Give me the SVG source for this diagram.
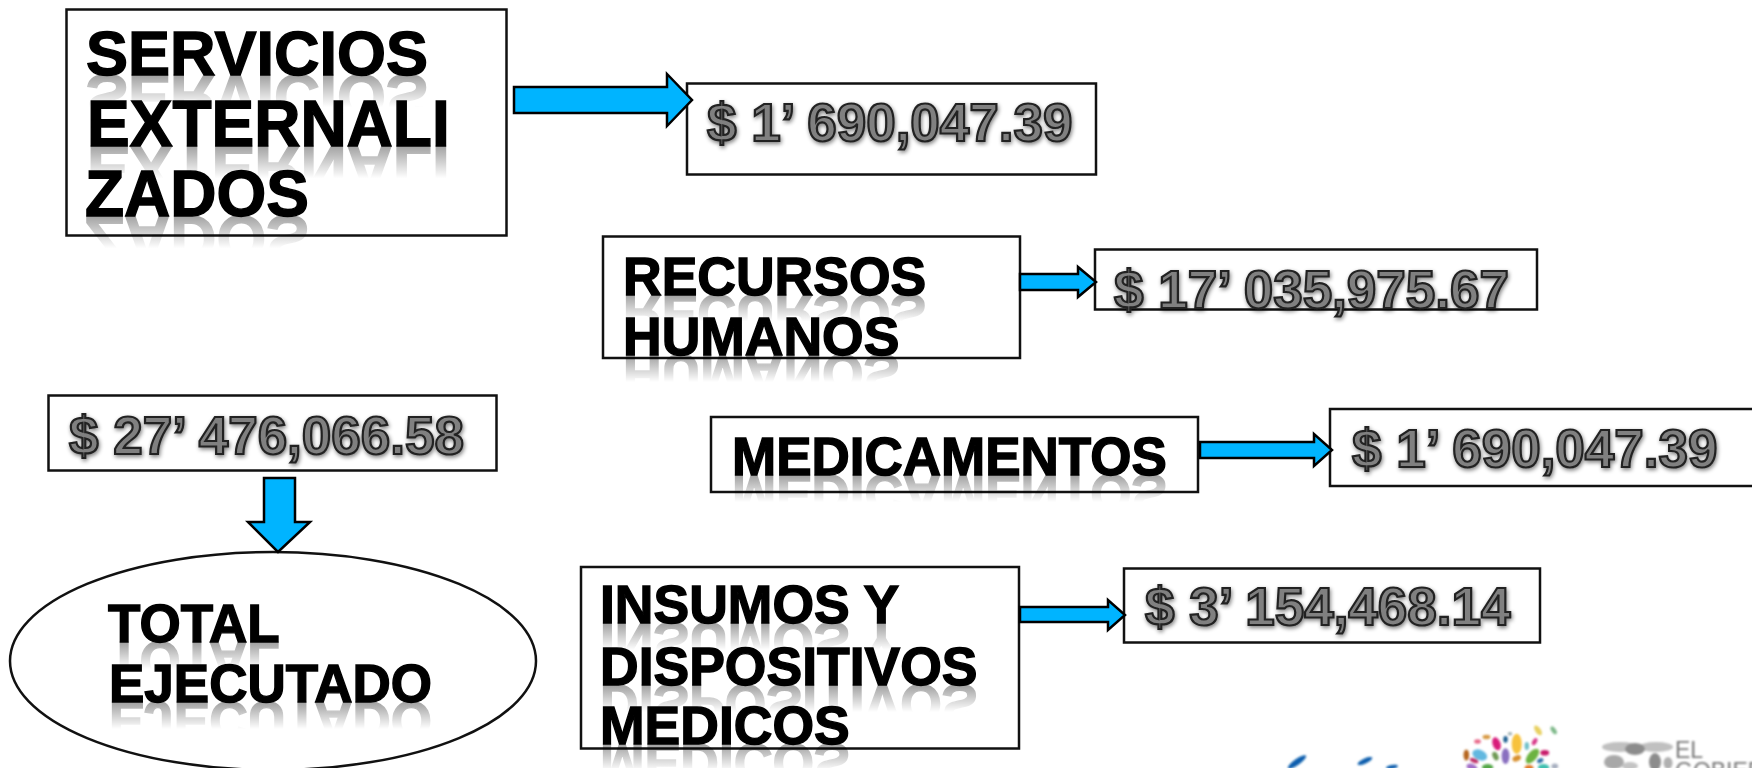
<svg xmlns="http://www.w3.org/2000/svg" width="1752" height="768" viewBox="0 0 1752 768">
<style>
text{font-family:"Liberation Sans",Arial,sans-serif;font-weight:700}
.box{fill:#fff;stroke:#111;stroke-width:2.5}
.arrow{fill:#00b4ff;stroke:#000;stroke-width:2.5;stroke-linejoin:miter}
.label{fill:#000;stroke:#000;stroke-width:1.4;filter:url(#soft)}
.value{font-size:53px;fill:#808080;stroke:#222;stroke-width:2.2;filter:url(#shadow)}
.logo{fill:#777;font-weight:400;font-size:23px;filter:url(#blur)}
</style>
<defs>
<filter id="soft" x="-5%" y="-10%" width="110%" height="120%"><feGaussianBlur stdDeviation=".6"/></filter>
<filter id="blur" x="-10%" y="-10%" width="120%" height="120%"><feGaussianBlur stdDeviation=".8"/></filter>
<filter id="shadow" x="-5%" y="-10%" width="110%" height="130%"><feGaussianBlur in="SourceAlpha" stdDeviation="2"/><feOffset dx="1" dy="2"/><feComponentTransfer><feFuncA type="linear" slope=".5"/></feComponentTransfer><feMerge><feMergeNode/><feMergeNode in="SourceGraphic"/></feMerge></filter>
<linearGradient id="fade" x1="0" y1=".81" x2="0" y2=".38"><stop offset="0" stop-color="#fff" stop-opacity=".42"/><stop offset="1" stop-color="#fff" stop-opacity="0"/></linearGradient>
<mask id="refl" maskUnits="objectBoundingBox" maskContentUnits="objectBoundingBox" x="-.05" y="-.1" width="1.1" height="1.2"><rect x="-.05" y="-.1" width="1.1" height="1.2" fill="url(#fade)"/></mask>
</defs>

<g id="node-servicios">
<rect class="box" x="66.5" y="9.5" width="440" height="226"/>
<use href="#s1" transform="matrix(1 0 0 -1 0 150)" mask="url(#refl)"/>
<use href="#s2" transform="matrix(1 0 0 -1 0 292)" mask="url(#refl)"/>
<use href="#s3" transform="matrix(1 0 0 -1 0 432)" mask="url(#refl)"/>
<text id="s1" class="label" x="86" y="75" font-size="63">SERVICIOS</text>
<text id="s2" class="label" x="87" y="146" font-size="64">EXTERNALI</text>
<text id="s3" class="label" x="85" y="216" font-size="64">ZADOS</text>
</g>
<g id="node-value-servicios">
<rect class="box" x="687" y="83.5" width="409" height="91"/>
<text class="value" x="707" y="141">$ 1’ 690,047.39</text>
</g>
<g id="node-recursos">
<rect class="box" x="603" y="236.5" width="417" height="121.5"/>
<use href="#r1" transform="matrix(1 0 0 -1 0 589)" mask="url(#refl)"/>
<use href="#r2" transform="matrix(1 0 0 -1 0 710)" mask="url(#refl)"/>
<text id="r1" class="label" x="623" y="294.5" font-size="53.5">RECURSOS</text>
<text id="r2" class="label" x="623" y="355" font-size="53.5">HUMANOS</text>
</g>
<g id="node-value-recursos">
<rect class="box" x="1095" y="249.5" width="442" height="60"/>
<text class="value" x="1114" y="308">$ 17’ 035,975.67</text>
</g>
<g id="node-value-total">
<rect class="box" x="48.5" y="395.5" width="448" height="75"/>
<text class="value" x="69" y="454">$ 27’ 476,066.58</text>
</g>
<g id="node-medicamentos">
<rect class="box" x="711" y="417" width="487" height="75"/>
<use href="#m1" transform="matrix(1 0 0 -1 0 950)" mask="url(#refl)"/>
<text id="m1" class="label" x="732" y="475" font-size="53">MEDICAMENTOS</text>
</g>
<g id="node-value-medicamentos">
<rect class="box" x="1330" y="409" width="430" height="77"/>
<text class="value" x="1352" y="467">$ 1’ 690,047.39</text>
</g>
<g id="node-total">
<ellipse class="box" cx="273" cy="661" rx="263" ry="109"/>
<use href="#t1" transform="matrix(1 0 0 -1 0 1284)" mask="url(#refl)"/>
<use href="#t2" transform="matrix(1 0 0 -1 0 1404)" mask="url(#refl)"/>
<text id="t1" class="label" x="108" y="642" font-size="53">TOTAL</text>
<text id="t2" class="label" x="109" y="702" font-size="53">EJECUTADO</text>
</g>
<g id="node-insumos">
<rect class="box" x="581" y="567" width="438" height="181.5"/>
<use href="#i1" transform="matrix(1 0 0 -1 0 1246)" mask="url(#refl)"/>
<use href="#i2" transform="matrix(1 0 0 -1 0 1370)" mask="url(#refl)"/>
<use href="#i3" transform="matrix(1 0 0 -1 0 1488)" mask="url(#refl)"/>
<text id="i1" class="label" x="600" y="623" font-size="53.5">INSUMOS Y</text>
<text id="i2" class="label" x="600" y="685" font-size="53.5">DISPOSITIVOS</text>
<text id="i3" class="label" x="600" y="744" font-size="53.5">MEDICOS</text>
</g>
<g id="node-value-insumos">
<rect class="box" x="1124" y="568.5" width="416" height="74"/>
<text class="value" x="1145" y="625">$ 3’ 154,468.14</text>
</g>

<g id="connectors">
<polygon class="arrow" points="514,87 667,87 667,74 692,100 667,126 667,113 514,113"/>
<polygon class="arrow" points="1020,274 1078,274 1078,267 1096,282 1078,297 1078,290 1020,290"/>
<polygon class="arrow" points="1200,442 1314,442 1314,434 1332,450 1314,466 1314,458 1200,458"/>
<polygon class="arrow" points="1020,607 1108,607 1108,600 1125,615 1108,630 1108,622 1020,622"/>
<polygon class="arrow" points="264,478 295,478 295,522 310,522 278,552 248,522 264,522"/>
</g>

<g id="logos" filter="url(#blur)">
<g id="logo-brush" fill="#0a5fae">
<ellipse cx="1297" cy="762" rx="11" ry="3" transform="rotate(-35 1297 762)"/>
<ellipse cx="1365" cy="761" rx="8" ry="2.5" transform="rotate(-25 1365 761)"/>
<ellipse cx="1392" cy="767" rx="6" ry="2" transform="rotate(-10 1392 767)"/>
</g>
<g id="logo-leaves" transform="translate(1510 755) scale(1.12) translate(-1510 -755)">
<ellipse cx="1498" cy="745" rx="3.5" ry="6" fill="#d81b7a" transform="rotate(-20 1498 745)"/>
<ellipse cx="1516" cy="745" rx="4.5" ry="9" fill="#f7c23c"/>
<ellipse cx="1506" cy="756" rx="3.5" ry="7" fill="#8a6fc0"/>
<ellipse cx="1530" cy="756" rx="4" ry="8" fill="#6cb33f" transform="rotate(40 1530 756)"/>
<ellipse cx="1483" cy="755" rx="7" ry="4.5" fill="#62b8e0" transform="rotate(25 1483 755)"/>
<ellipse cx="1471" cy="755" rx="2.5" ry="5" fill="#b5651d"/>
<ellipse cx="1478" cy="760" rx="4" ry="2" fill="#c0306a" transform="rotate(20 1478 760)"/>
<ellipse cx="1476" cy="766" rx="5" ry="3" fill="#a36fc8" transform="rotate(20 1476 766)"/>
<ellipse cx="1490" cy="766" rx="5" ry="3" fill="#55a84a"/>
<ellipse cx="1497" cy="756" rx="2.5" ry="4" fill="#6f9a55" transform="rotate(-25 1497 756)"/>
<ellipse cx="1516" cy="758" rx="4" ry="2.5" fill="#d8902f" transform="rotate(-25 1516 758)"/>
<ellipse cx="1527" cy="767" rx="4" ry="3" fill="#e07b2a"/>
<ellipse cx="1540" cy="766" rx="5" ry="3" fill="#3fc0b0"/>
<ellipse cx="1550" cy="765" rx="3" ry="2.5" fill="#a8b0c0"/>
<ellipse cx="1537" cy="760" rx="3" ry="2" fill="#2f6fa8" transform="rotate(-30 1537 760)"/>
<ellipse cx="1541" cy="753" rx="4" ry="2.5" fill="#c81b6a"/>
<ellipse cx="1525" cy="747" rx="2" ry="3.5" fill="#6fc0c8"/>
<ellipse cx="1489" cy="739" rx="3.5" ry="2" fill="#d89a45"/>
<ellipse cx="1481" cy="743" rx="3" ry="2" fill="#e86a8a"/>
<ellipse cx="1506" cy="741" rx="2" ry="3" fill="#1f5f90"/>
<ellipse cx="1510" cy="736" rx="2" ry="1.5" fill="#9fb0b0"/>
<ellipse cx="1532" cy="743" rx="2" ry="3.5" fill="#d83b8a" transform="rotate(30 1532 743)"/>
<ellipse cx="1535" cy="733" rx="2.5" ry="5" fill="#e8d060" transform="rotate(-35 1535 733)"/>
<ellipse cx="1549" cy="733" rx="2" ry="4" fill="#7fb98a" transform="rotate(-35 1549 733)"/>
</g>
<g id="logo-eagle">
<ellipse cx="1620" cy="747" rx="18" ry="5" fill="#c0c0c0"/>
<ellipse cx="1656" cy="747" rx="17" ry="5" fill="#c0c0c0"/>
<ellipse cx="1635" cy="749" rx="10" ry="6" fill="#8c8c8c"/>
<ellipse cx="1614" cy="762" rx="10" ry="7" fill="#a8a8a8"/>
<ellipse cx="1630" cy="766" rx="8" ry="4" fill="#c4c4c4"/>
<ellipse cx="1655" cy="762" rx="6" ry="9" fill="#8c8c8c"/>
<ellipse cx="1668" cy="763" rx="4.5" ry="6" fill="#b0b0b0"/>
</g>
</g>
<text class="logo" x="1675" y="758">EL</text>
<text class="logo" x="1675" y="779">GOBIER</text>
</svg>
